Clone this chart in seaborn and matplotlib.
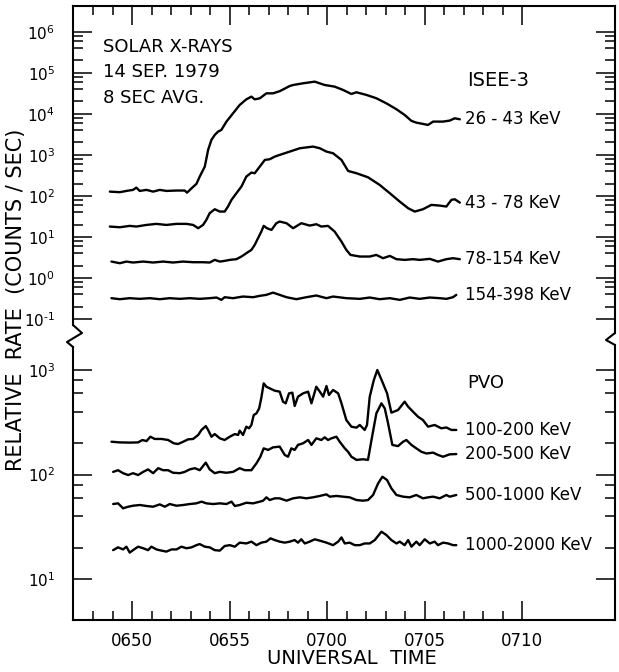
import numpy as np
import pandas as pd
import matplotlib
matplotlib.use("Agg")
import matplotlib.pyplot as plt
import seaborn as sns
from matplotlib.ticker import FixedLocator, NullFormatter
from matplotlib.lines import Line2D

# ---------------- data (time in minutes after 06:00 UT, rate in counts/s) ----------------
t_26_43 = [48.86, 49.37, 49.71, 50.05, 50.22, 50.39, 50.74, 51.08, 51.42, 51.76,
           52.28, 52.70, 52.82, 53.05, 53.30, 53.47, 53.73, 53.90, 54.07, 54.24,
           54.41, 54.58, 54.84, 55.18, 55.52, 55.86, 56.12, 56.29, 56.55, 56.89,
           57.23, 57.57, 58.09, 58.26, 58.77, 59.37, 59.88, 60.39, 60.82, 61.25,
           61.51, 62.02, 62.53, 63.04, 63.56, 63.98, 64.33, 64.58, 65.18, 65.44,
           65.95, 66.29, 66.55, 66.81]
v_26_43 = [127, 123, 132, 140, 159, 132, 140, 127, 140, 132,
           135, 135, 120, 153, 196, 295, 517, 1318, 2307, 3055,
           3681, 4040, 6450, 10280, 16400, 22500, 26200, 22500, 23800, 31500,
           31500, 35500, 47600, 50300, 55300, 60700, 50300, 45900, 38100, 30400,
           33400, 28800, 23900, 18000, 12900, 9380, 6700, 6100, 5350, 6450,
           6450, 6830, 7770, 7350]

t_43_78 = [48.86, 49.37, 49.88, 50.22, 50.74, 51.25, 51.76, 52.28, 52.79, 53.13,
           53.39, 53.64, 53.81, 53.98, 54.24, 54.50, 54.75, 54.92, 55.10, 55.35,
           55.61, 55.86, 56.12, 56.29, 56.55, 56.81, 57.06, 57.32, 57.57, 58.09,
           58.60, 59.28, 59.63, 59.97, 60.31, 60.74, 61.08, 61.51, 62.10, 62.70,
           63.22, 63.73, 64.16, 64.50, 64.92, 65.35, 65.78, 66.12, 66.38, 66.55,
           66.81]
v_43_78 = [17.9, 17.2, 18.6, 17.9, 19.6, 20.8, 19.6, 20.8, 20.8, 19.6,
           16.3, 19.6, 26, 37.8, 47.3, 41.5, 41.5, 55, 80, 116,
           169, 295, 370, 356, 517, 752, 781, 906, 995, 1200,
           1446, 1589, 1446, 1200, 1092, 752, 405, 356, 284, 185,
           116, 72.6, 50, 41.5, 47.3, 60.3, 58, 55, 80, 82.8,
           68.7]

t_78_154 = [48.94, 49.37, 49.71, 50.05, 50.57, 51.08, 51.59, 52.10, 52.62, 53.13,
            53.64, 53.98, 54.24, 54.50, 54.75, 55.01, 55.35, 55.61, 55.86, 56.12,
            56.29, 56.46, 56.63, 56.75, 56.92, 57.15, 57.40, 57.57, 57.92, 58.26,
            58.68, 59.11, 59.45, 59.71, 60.05, 60.39, 60.74, 60.99, 61.20, 61.68,
            62.19, 62.53, 62.87, 63.22, 63.56, 63.98, 64.41, 64.75, 65.27, 65.69,
            66.12, 66.46, 66.81]
v_78_154 = [2.51, 2.29, 2.51, 2.38, 2.51, 2.38, 2.51, 2.38, 2.51, 2.42,
            2.42, 2.38, 2.76, 2.51, 2.61, 2.76, 2.87, 3.33, 4.01, 4.83,
            6.4, 9.3, 13.5, 18.6, 16.3, 14.8, 21.6, 23.7, 21.6, 16.3,
            21.6, 18.9, 20.4, 17.9, 18.6, 13.5, 7.7, 4.83, 3.65, 3.33,
            3.33, 3.65, 3.03, 3.45, 2.87, 2.76, 2.87, 2.76, 2.92, 2.51,
            2.87, 3.03, 2.87]

t_154_398 = [48.94, 49.37, 49.88, 50.39, 50.91, 51.42, 51.93, 52.45, 52.96, 53.47,
             53.98, 54.33, 54.58, 54.75, 55.18, 55.69, 56.21, 56.55, 56.89, 57.23,
             57.57, 57.92, 58.43, 58.94, 59.45, 59.97, 60.31, 60.99, 61.68, 62.19,
             62.70, 63.22, 63.73, 64.24, 64.75, 65.27, 65.78, 66.12, 66.46, 66.63]
v_154_398 = [0.322, 0.304, 0.322, 0.31, 0.322, 0.304, 0.322, 0.31, 0.322, 0.31,
             0.322, 0.334, 0.293, 0.34, 0.322, 0.353, 0.34, 0.367, 0.388, 0.44,
             0.388, 0.34, 0.304, 0.34, 0.374, 0.322, 0.353, 0.322, 0.31, 0.334,
             0.304, 0.322, 0.293, 0.334, 0.31, 0.334, 0.322, 0.31, 0.34, 0.388]

t_100_200 = [48.94, 49.37, 49.88, 50.31, 50.53, 50.74, 50.94, 51.16, 51.51, 51.85,
             52.14, 52.36, 52.62, 52.87, 53.13, 53.39, 53.56, 53.78, 53.90, 54.07,
             54.24, 54.50, 54.75, 55.01, 55.27, 55.44, 55.52, 55.69, 55.86, 56.00,
             56.12, 56.24, 56.38, 56.52, 56.64, 56.75, 56.89, 57.06, 57.32, 57.57,
             57.74, 57.88, 58.05, 58.22, 58.34, 58.51, 58.77, 59.03, 59.20, 59.45,
             59.63, 59.80, 59.97, 60.10, 60.31, 60.57, 60.74, 60.99, 61.25, 61.51,
             61.68, 61.93, 62.05, 62.19, 62.40, 62.58, 62.87, 63.08, 63.30, 63.64,
             63.98, 64.16, 64.41, 64.67, 64.92, 65.18, 65.52, 65.86, 66.12, 66.38,
             66.63]
v_100_200 = [206, 203, 202, 203, 214, 209, 230, 219, 219, 214,
             199, 196, 206, 217, 219, 239, 267, 291, 267, 230,
             244, 222, 214, 230, 244, 239, 263, 239, 287, 277,
             298, 371, 385, 430, 556, 745, 692, 668, 634, 621,
             498, 480, 598, 607, 453, 556, 598, 621, 480, 692,
             621, 556, 703, 577, 644, 598, 480, 332, 287, 281,
             298, 267, 298, 556, 802, 1000, 745, 598, 391, 414,
             498, 446, 399, 357, 332, 287, 298, 277, 282, 267,
             267]

t_200_500 = [49.03, 49.28, 49.54, 49.80, 50.05, 50.31, 50.57, 50.82, 51.08, 51.34,
             51.59, 51.85, 52.10, 52.45, 52.70, 52.96, 53.22, 53.47, 53.78, 53.98,
             54.24, 54.50, 54.84, 55.18, 55.52, 55.78, 56.12, 56.38, 56.58, 56.75,
             56.98, 57.23, 57.57, 57.83, 58.00, 58.17, 58.34, 58.51, 58.77, 59.03,
             59.20, 59.45, 59.71, 59.88, 60.05, 60.22, 60.48, 60.65, 60.91, 61.08,
             61.25, 61.51, 61.85, 62.10, 62.28, 62.53, 62.79, 62.96, 63.13, 63.35,
             63.64, 63.90, 64.07, 64.33, 64.58, 64.84, 65.10, 65.44, 65.69, 65.95,
             66.29, 66.63]
v_200_500 = [106, 110, 103, 98.9, 103, 98.9, 106, 112, 103, 115,
             110, 110, 104, 103, 106, 112, 115, 110, 130, 112,
             103, 106, 104, 106, 115, 110, 110, 128, 148, 178,
             172, 182, 185, 154, 148, 178, 172, 192, 199, 214,
             192, 222, 214, 227, 214, 222, 230, 206, 178, 165,
             148, 138, 140, 138, 214, 385, 480, 430, 309, 192,
             187, 206, 214, 192, 178, 165, 159, 162, 154, 148,
             156, 157]

t_500_1000 = [49.03, 49.28, 49.54, 49.80, 50.05, 50.40, 50.74, 51.08, 51.42, 51.68,
              51.93, 52.28, 52.62, 52.96, 53.30, 53.56, 53.81, 54.16, 54.50, 54.84,
              55.10, 55.27, 55.52, 55.86, 56.21, 56.55, 56.72, 56.89, 57.06, 57.32,
              57.57, 57.92, 58.26, 58.60, 58.94, 59.28, 59.63, 59.97, 60.14, 60.48,
              60.82, 61.16, 61.51, 61.85, 62.10, 62.36, 62.62, 62.84, 63.08, 63.30,
              63.56, 63.90, 64.24, 64.58, 64.92, 65.18, 65.44, 65.78, 66.12, 66.29,
              66.63]
v_500_1000 = [52.2, 53, 47.5, 49.2, 50.3, 51.1, 50, 49.2, 51.8, 49.2,
              52.2, 50.3, 51.1, 52.2, 53, 55, 53, 52.2, 53, 52.2,
              55, 50, 51.1, 53.7, 53, 55, 56.2, 60.5, 57, 59.2,
              59.2, 56.2, 59.2, 60.5, 59.2, 60.5, 62.4, 64.6, 61.4, 62.4,
              61.4, 60.5, 57, 56.2, 57, 63.7, 82.3, 95.3, 88.5, 73.8,
              63.7, 61.4, 60.5, 63.7, 59.2, 60.5, 61.4, 59.2, 63.7, 61.4,
              63.7]

t_1000_2000 = [49.03, 49.28, 49.54, 49.71, 49.88, 50.05, 50.31, 50.57, 50.82, 50.99,
               51.25, 51.51, 51.76, 52.02, 52.28, 52.53, 52.79, 53.05, 53.30, 53.47,
               53.73, 53.98, 54.24, 54.50, 54.75, 55.01, 55.27, 55.52, 55.86, 56.12,
               56.38, 56.63, 56.89, 57.10, 57.32, 57.57, 57.83, 58.09, 58.34, 58.51,
               58.68, 58.86, 59.11, 59.37, 59.63, 59.97, 60.31, 60.57, 60.74, 60.91,
               61.16, 61.42, 61.68, 61.93, 62.19, 62.45, 62.79, 63.04, 63.30, 63.56,
               63.73, 63.98, 64.16, 64.33, 64.58, 64.75, 65.01, 65.27, 65.52, 65.69,
               65.95, 66.21, 66.46, 66.63]
v_1000_2000 = [18.9, 20.1, 19.2, 20.4, 17.9, 18.9, 20.4, 19.7, 18.9, 20.4,
               19.2, 18.7, 18.3, 19.2, 19.2, 20.4, 19.7, 20.1, 21.1, 21.6,
               20.4, 20.1, 18.9, 18.7, 20.7, 21.1, 20.4, 22.3, 21.9, 22.8,
               21.1, 22.3, 22.8, 24.5, 23.6, 22.8, 22.3, 22.8, 23.6, 22.3,
               24.0, 21.9, 22.8, 24.0, 23.3, 22.3, 21.1, 22.8, 25.0, 21.9,
               22.3, 21.1, 21.1, 21.9, 21.9, 23.6, 28.4, 26.4, 23.6, 21.9,
               22.8, 21.1, 23.6, 20.4, 22.8, 21.1, 24.0, 21.9, 22.8, 21.1,
               22.3, 21.9, 21.1, 21.1]

isee_labels = ["26 - 43 KeV", "43 - 78 KeV", "78-154 KeV", "154-398 KeV"]
pvo_labels = ["100-200 KeV", "200-500 KeV", "500-1000 KeV", "1000-2000 KeV"]

xtick_pos = [50, 55, 60, 65, 70]
xtick_labels = ["0650", "0655", "0700", "0705", "0710"]
xminor_pos = [m for m in range(48, 71) if m % 5 != 0]

ytop_exp = [-1, 0, 1, 2, 3, 4, 5, 6]
ybot_exp = [1, 2, 3]


def exp_label(k):
    # short hyphen (U+2010) instead of the wide math minus, like the original lettering
    s = str(k).replace("-", "\u2010")
    return rf"$10^{{{s}}}$"


# ---------------- figure ----------------
sns.set_style("ticks")
plt.rcParams['font.family'] = ['DejaVu Sans']
plt.rcParams['mathtext.fontset'] = 'dejavusans'
for key in ["text.color", "axes.labelcolor", "xtick.color", "ytick.color", "axes.edgecolor"]:
    plt.rcParams[key] = "black"

W, H = 619, 672
L, R = 73, 615
TOP, BRK, BOT = 6, 337, 620

fig = plt.figure(figsize=(W / 100, H / 100), dpi=100)
ax_t = fig.add_axes([L / W, 1 - BRK / H, (R - L) / W, (BRK - TOP) / H])
ax_b = fig.add_axes([L / W, 1 - BOT / H, (R - L) / W, (BOT - BRK) / H])

isee = [(t_26_43, v_26_43), (t_43_78, v_43_78), (t_78_154, v_78_154), (t_154_398, v_154_398)]
pvo = [(t_100_200, v_100_200), (t_200_500, v_200_500), (t_500_1000, v_500_1000), (t_1000_2000, v_1000_2000)]

for ax, series, labels in [(ax_t, isee, isee_labels), (ax_b, pvo, pvo_labels)]:
    for (t, v), lab in zip(series, labels):
        df = pd.DataFrame({"t": t, "v": v})
        sns.lineplot(data=df, x="t", y="v", ax=ax, color="black", lw=1.7,
                     estimator=None, sort=False)
        ax.text(67.1, v[-1], lab, fontsize=12, va="center", ha="left")
    ax.set_yscale("log")
    ax.set_xlim(46.97, 74.77)
    ax.set_xlabel("")
    ax.set_ylabel("")
    for s in ax.spines.values():
        s.set_linewidth(1.5)
        s.set_color("black")

ylim_t = (10 ** -1.438, 10 ** 6.626)
ylim_b = (10 ** 0.608, 10 ** 3.316)
ax_t.set_ylim(*ylim_t)
ax_b.set_ylim(*ylim_b)

# y ticks
ax_t.set_yticks([10.0 ** k for k in ytop_exp], [exp_label(k) for k in ytop_exp])
ax_t.yaxis.set_minor_locator(FixedLocator([m * 10.0 ** k for k in ytop_exp[:-1] for m in (2, 4, 6, 8)]))
ax_b.set_yticks([10.0 ** k for k in ybot_exp], [exp_label(k) for k in ybot_exp])
ax_b.yaxis.set_minor_locator(FixedLocator([m * 10.0 ** k for k in ybot_exp[:-1] for m in (2, 4, 6, 8)]))
for ax in (ax_t, ax_b):
    ax.yaxis.set_minor_formatter(NullFormatter())
    ax.set_xticks(xtick_pos, xtick_labels)
    ax.set_xticks(xminor_pos, minor=True)
    ax.tick_params(axis="y", which="both", direction="in", left=True, right=True,
                   labelright=False, width=1.1, labelsize=11, pad=13)
    ax.tick_params(axis="y", which="major", length=14)
    ax.tick_params(axis="y", which="minor", length=7)
    ax.tick_params(axis="x", which="both", direction="in", width=1.1, labelsize=12, pad=9)
    ax.tick_params(axis="x", which="major", length=14)
    ax.tick_params(axis="x", which="minor", length=6.5)

ax_t.tick_params(axis="x", which="both", top=True, bottom=False, labelbottom=False, labeltop=False)
ax_b.tick_params(axis="x", which="both", top=False, bottom=True)
ax_t.spines["bottom"].set_visible(False)
ax_b.spines["top"].set_visible(False)


def frac_val(lim, f):
    lo, hi = np.log10(lim[0]), np.log10(lim[1])
    return 10 ** (lo + f * (hi - lo))


ax_t.spines["left"].set_bounds(frac_val(ylim_t, (BRK - 325) / (BRK - TOP)), ylim_t[1])
ax_t.spines["right"].set_bounds(frac_val(ylim_t, (BRK - 333) / (BRK - TOP)), ylim_t[1])
ax_b.spines["left"].set_bounds(ylim_b[0], frac_val(ylim_b, (BOT - 347) / (BOT - BRK)))
ax_b.spines["right"].set_bounds(ylim_b[0], frac_val(ylim_b, (BOT - 345) / (BOT - BRK)))

# axis break marks
for xs, ys in [([73, 82, 67, 73], [325, 333, 342, 347]), ([615, 606, 615], [333, 340, 345])]:
    fig.add_artist(Line2D(np.array(xs) / W, 1 - np.array(ys) / H, color="black",
                          lw=1.5, transform=fig.transFigure))

# annotations
ax_t.text(0.0554, 0.876, "SOLAR X-RAYS", transform=ax_t.transAxes, fontsize=13, va="center")
ax_t.text(0.0554, 0.801, "14 SEP. 1979", transform=ax_t.transAxes, fontsize=13, va="center")
ax_t.text(0.0554, 0.722, "8 SEC AVG.", transform=ax_t.transAxes, fontsize=13, va="center")
ax_t.text(0.727, 0.776, "ISEE-3", transform=ax_t.transAxes, fontsize=14, va="center")
ax_b.text(0.727, 0.837, "PVO", transform=ax_b.transAxes, fontsize=13, va="center")

fig.text(16 / W, 1 - 300 / H, "RELATIVE  RATE  (COUNTS / SEC)", rotation=90,
         ha="center", va="center", fontsize=15)
fig.text(352 / W, 1 - 659 / H, "UNIVERSAL  TIME", ha="center", va="center", fontsize=14)

fig.savefig("out.png", dpi=100)
